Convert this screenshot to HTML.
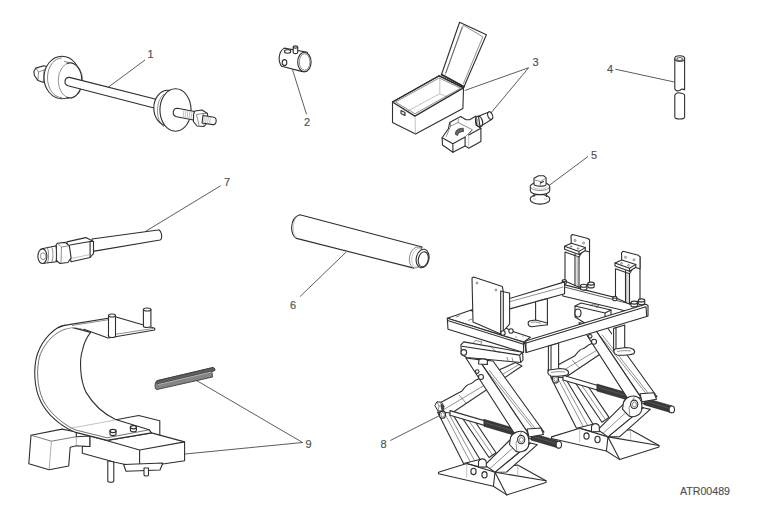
<!DOCTYPE html>
<html><head><meta charset="utf-8">
<style>
html,body{margin:0;padding:0;background:#fff;}
body{width:765px;height:531px;overflow:hidden;}
svg{display:block;}
.k{fill:none;stroke:#2e2e2e;stroke-width:1.1;stroke-linejoin:round;stroke-linecap:round;}
.w{fill:#fff;stroke:#2e2e2e;stroke-width:1.1;stroke-linejoin:round;}
.t{fill:none;stroke:#444;stroke-width:0.6;}
.g{fill:none;stroke:#999;stroke-width:0.6;}
.l{fill:none;stroke:#333;stroke-width:0.8;}
text{font-family:"Liberation Sans",sans-serif;font-size:11px;fill:#505050;stroke:#505050;stroke-width:0.15;}
</style></head>
<body>
<svg width="765" height="531" viewBox="0 0 765 531">
<!-- PART1 -->
<g id="p1">
<!-- left nut -->
<path class="w" d="M33.9,71.6 L35.8,68.1 L43.7,65.7 L47.6,66.7 L48,80 L43.2,82.3 L37.8,80.4 L34.4,75.5 Z"/>
<path class="t" d="M35.8,68.1 L38.5,72 L38,80 M38.5,72 L44,70 L47.6,66.7 M44,70 L43.2,82.3"/>
<!-- back flange -->
<ellipse class="w" cx="62" cy="77.5" rx="18" ry="21.2"/>
<path class="t" d="M62,58 A14.5,19.8 0 0 0 62,97.6" style="stroke:#555;stroke-width:0.7"/>
<!-- cylinder body -->
<ellipse cx="70.5" cy="80.4" rx="12.25" ry="17.6" fill="#fff" stroke="#777" stroke-width="0.8"/>
<path class="k" d="M67,63.2 A12.25,17.6 0 1 1 67,97.6"/>
<path class="t" d="M64,61.2 L70,62.8 M64,98.8 L69,98"/>
<!-- rod -->
<path class="w" d="M69.5,77.4 L157,99.5 L155,108.3 L68,85.8 A4.3,4.3 0 0 1 69.5,77.4 Z"/>
<!-- right back disc -->
<ellipse class="w" cx="168" cy="108" rx="14.2" ry="17.8"/>
<!-- right front disc -->
<ellipse class="w" cx="175.5" cy="110" rx="15.55" ry="21.2"/>
<path class="t" d="M164,94 A13,19 0 0 0 164,127"/>
<!-- threaded rod -->
<path class="w" d="M177.5,108.2 L197,112 L196,120.5 L176.6,116.7 A4.3,4.3 0 0 1 177.5,108.2 Z"/>
<path class="g" d="M184,110 l-1,7.5 M186,110.4 l-1,7.5 M188,110.8 l-1,7.5 M190,111.2 l-1,7.5 M192,111.6 l-1,7.5"/>
<!-- nut -->
<path class="w" d="M195,111 L202,110 L207.5,113.5 L208,122 L204,126.5 L197,126 L193.4,121.5 L193.6,114 Z"/>
<path class="t" d="M196.5,114.5 L199,125.5 M196.5,114.5 L203,113.5 L207.5,113.5 M203,113.5 L204,126.5"/>
<path class="w" d="M203,115.5 L214,117.2 A2.6,3.7 0 0 1 213,124.6 L202,123 Z"/>
<path class="g" d="M204.5,116 l-1,6.8 M206.5,116.3 l-1,6.8 M208.5,116.6 l-1,6.8 M210.5,116.9 l-1,6.8"/>
<line class="l" x1="108" y1="87.4" x2="145" y2="60"/>
<text x="147.5" y="58">1</text>
</g>
<!-- PART2 -->
<g id="p2">
<path class="w" d="M284.2,48.1 L307.3,52.2 L304.4,71.8 L301.5,71.4 L281.7,66.3 C278,62 278,52 284.2,48.1 Z"/>
<ellipse class="w" cx="304.4" cy="62" rx="6.7" ry="9.8"/>
<ellipse class="t" cx="304.6" cy="62" rx="5.3" ry="8.2"/>
<path class="w" d="M293.2,47 L293.2,52.5 A2.25,1.1 0 0 0 297.7,52.5 L297.7,47 Z"/>
<ellipse class="w" cx="295.45" cy="47" rx="2.25" ry="1.1"/>
<ellipse class="k" cx="287.6" cy="51.5" rx="3.2" ry="1.7"/>
<ellipse class="k" cx="284.5" cy="62.6" rx="2.3" ry="3"/>
<line class="l" x1="292.5" y1="69.7" x2="306.5" y2="114.3"/>
<text x="304" y="126">2</text>
</g>
<!-- PART3 -->
<g id="p3">
<!-- box -->
<path class="w" d="M392.5,102 L439.2,75.8 L463.5,87.9 L462.9,108.4 L415.5,134 L392.5,122.5 Z"/>
<path class="g" d="M439.8,77.7 L439.8,93.7 L407.8,111 M439.8,93.7 L448.2,97.5 M415,117 L415.5,134"/>
<path class="k" d="M392.5,102 L439.2,75.8 L463.5,87.9 L414.9,116.1 Z" style="stroke-width:1.3"/>
<path class="t" d="M395.5,102 L439.2,78 L460.5,88.2 L414.9,113.8 Z"/>
<path class="k" d="M401,110.5 L405,112.5 L405,115.5 L401,113.5 Z"/>
<!-- lid -->
<path class="w" d="M441.5,74.5 L459.6,22.3 L486.4,34.7 L464,86.8 Z"/>
<path class="t" d="M445,74.5 L463.3,25.2 L482.8,36.8 L463.3,84 M462,27 L446,73"/>
<path class="k" d="M441.5,74.5 L464,86.8" style="stroke-width:1.6"/>
<!-- block -->
<path class="w" d="M442.1,137.8 L442.5,145 L452.9,152.3 L465.1,145.9 L468.7,148.2 L480.9,141.4 L480.9,128.3 L476,125 L476,116 L469.6,119.7 L466,119.7 L460.6,116.6 L449.7,122.5 L448.4,128.8 Z"/>
<path class="k" d="M442.1,137.8 L452.9,143.7 L465.1,136.9 L465.1,145.9 M452.9,143.7 L452.9,152.3 M468.7,135.1 L480.9,128.3"/>
<path class="g" d="M468.7,135.1 L468.7,148.2"/>
<path class="t" d="M446.1,136.9 L450.6,126.1 L458,122.5 L472.3,129.7 L465.1,136.9 M450.6,126.1 L450.5,123 M458,122.5 L458.5,119 M472.3,129.7 L468.7,135.1"/>
<path d="M455.5,134.5 C455,130.5 458,128 463.3,128.3 L463.5,131.5 C460.5,131.5 458.5,132.5 457.5,135.5 Z" fill="#666" stroke="#2e2e2e" stroke-width="0.7"/>
<!-- pin -->
<path class="w" d="M478.5,116.3 L489.5,111.7 L491.5,119.5 L480,126.6 Z"/>
<ellipse class="w" cx="490.2" cy="115.6" rx="2.3" ry="3.9" transform="rotate(-20 490.2 115.6)"/>
<ellipse class="k" cx="479.1" cy="121.5" rx="3.4" ry="5.4" transform="rotate(-15 479.1 121.5)" style="stroke-width:1.3"/>
<path class="t" d="M478,119 C476.5,121 477,124 479.5,125.5"/>
<line class="l" x1="528.6" y1="67.75" x2="464.7" y2="90.5"/>
<line class="l" x1="528.6" y1="67.75" x2="490.7" y2="113.3"/>
<text x="532.5" y="66">3</text>
</g>
<!-- PART4 -->
<g id="p4">
<path class="w" d="M674.8,58.5 L674.8,89 C675.5,90.5 677.5,91.5 679.5,90.5 C681,89.5 683,88.8 684.6,89.8 L684.6,57.5 Z"/>
<ellipse class="w" cx="679.7" cy="58.5" rx="4.9" ry="2.8"/>
<ellipse class="k" cx="679.7" cy="59" rx="2.8" ry="1.5" style="stroke:#666"/>
<path class="t" d="M680.5,90 C681.5,88.5 683.5,88.5 684.4,89.8"/>
<path class="w" d="M674.8,95 C676,93 678,92.5 680,93 C682,93.5 683.5,93.3 684.6,95 L684.6,117 A4.9,2 0 0 1 674.8,117 Z"/>
<line class="l" x1="615.3" y1="69.2" x2="674.3" y2="82"/>
<text x="607" y="73">4</text>
</g>
<!-- PART5 -->
<g id="p5">
<!-- washer -->
<path class="w" d="M530.3,198.8 A9.7,4.3 0 0 1 549.7,198.8 L549.7,199.8 A9.7,4.3 0 0 1 530.3,199.8 Z"/>
<path class="g" d="M533,199 L536,199 M544,199 L547,199"/>
<path class="k" d="M534,194.5 L534,196.5 M546.5,194.5 L546.5,196.5"/>
<!-- flange -->
<path class="w" d="M530.3,186.5 A9.7,4.1 0 0 1 549.7,186.5 L549.7,190.5 A9.7,4.1 0 0 1 530.3,190.5 Z"/>
<path class="t" d="M530.3,186.5 A9.7,4.1 0 0 0 549.7,186.5"/>
<path class="g" d="M533,186.5 A7,2.6 0 0 0 547,186.5"/>
<!-- head -->
<path class="w" d="M534,178.2 L538.6,175.7 L543.6,175.7 L546.1,177.9 L546.1,184.3 A6,2 0 0 1 534,184 Z"/>
<path class="t" d="M535,180 L540.4,181.5 L545.3,178.6 M540.4,181.5 L540.4,185.5"/>
<path class="k" d="M540.5,183 L543.5,181.5"/>
<line class="l" x1="550" y1="184.8" x2="588" y2="156.5"/>
<text x="591" y="158.5">5</text>
</g>
<!-- PART6 -->
<g id="p6">
<path class="w" d="M299.9,214.7 L422.1,247 L413.8,268.1 L296.5,238.4 C290,236 289,218 299.9,214.7 Z"/>
<path class="t" d="M297,216.5 C292,222 292,234 296.5,237" style="stroke:#999"/>
<ellipse cx="416.5" cy="257.5" rx="7" ry="10.7" transform="rotate(12 416.5 257.5)" fill="#fff" stroke="#777" stroke-width="0.8"/>
<ellipse cx="417.5" cy="257.7" rx="5.6" ry="9.4" transform="rotate(12 417.5 257.7)" fill="none" stroke="#aaa" stroke-width="0.6"/>
<ellipse class="w" cx="422.6" cy="258.5" rx="6.3" ry="9.4" transform="rotate(12 422.6 258.5)"/>
<ellipse class="k" cx="423.3" cy="259.3" rx="4.9" ry="7.6" transform="rotate(12 423.3 259.3)"/>
<line class="l" x1="346.2" y1="252" x2="299.9" y2="296.7"/>
<text x="290" y="309">6</text>
</g>
<!-- PART7 -->
<g id="p7">
<!-- rod -->
<path class="w" d="M92,239 L158,230 A2.5,5 -8 0 1 160,240 L93,251.4 Z"/>
<!-- hex body -->
<path class="w" d="M66.8,241.9 L85.8,237.6 L93.5,241.5 L93.5,253.6 L90.1,257.5 L71.1,261.8 Z"/>
<path class="k" d="M70,245 L90.1,241.5 L93.5,241.5 M90.1,241.5 L90.1,257.5"/>
<path class="g" d="M71,258.5 L90.1,254.5"/>
<!-- hex nut -->
<path class="w" d="M57.3,243.2 L65.1,242.4 L69.4,245.8 L71.1,257.9 L68,262.5 L60,263.5 L55.8,260 L55.6,246 Z"/>
<path class="t" d="M57.3,243.2 L61.5,247 L61,263.5 M61.5,247 L69.4,245.8"/>
<!-- ribbed tip -->
<path class="w" d="M42,248.8 L56.4,245.8 L56.5,261.8 L42,263.5 Z"/>
<path class="t" d="M47,248 A1.6,7.4 0 0 1 47,262.8 M51.3,247.1 A1.6,7.4 0 0 1 51.3,262.2 M55,246.2 A1.6,7.6 0 0 1 55,261.9"/>
<ellipse class="w" cx="42.4" cy="256.2" rx="4.5" ry="7.3"/>
<ellipse class="t" cx="43.1" cy="256.2" rx="2.6" ry="3.5"/>
<line class="l" x1="145.3" y1="231.5" x2="220.6" y2="185.8"/>
<text x="224" y="186">7</text>
</g>
<!-- PART8 -->
<g id="p8">
<!-- ===== back-right crossbar ===== -->
<path class="w" d="M562.8,284.4 L647,305.5 L647,316 L562.8,296 Z"/>
<path class="k" d="M562.8,286.6 L640,306.5" style="stroke-width:0.8"/>
<!-- posts -->
<g id="post">
<path class="w" d="M565,252 L579,257 L589.5,240 L589.5,284 L579,287.3 L565,281 Z"/>
<path class="k" d="M579,257 L579,287.3 M575,254 L575,285.5"/>
<path class="g" d="M576,256 L576,285 M577.5,256 L577.5,286"/>
<path class="w" d="M571,236 L572.5,234.5 L588,238.5 L589.5,240 L589.5,252 L571.4,247 Z"/>
<circle class="t" cx="575" cy="240.5" r="1"/><circle class="t" cx="583.5" cy="243" r="1"/>
<path class="w" d="M564.5,246.3 L571.4,243.2 L585.3,247.6 L585.3,250.5 L579,254.5 L564.5,249.3 Z"/>
<path class="k" d="M564.5,246.3 L579,251.4 L585.3,247.6 M579,251.4 L579,254.5"/>
<circle class="t" cx="571" cy="246.5" r="0.8"/><circle class="t" cx="578" cy="248.5" r="0.8"/>
<path class="w" d="M580.5,285.8 L580.5,288.6 A3.2,1.5 0 0 0 586.9,288.6 L586.9,285.8 Z"/><ellipse class="w" cx="583.7" cy="285.8" rx="3.2" ry="1.5"/>
<path class="w" d="M587.8,283.6 L587.8,286.4 A3.2,1.5 0 0 0 594.2,286.4 L594.2,283.6 Z"/><ellipse class="w" cx="591" cy="283.6" rx="3.2" ry="1.5"/>
<path class="w" d="M562.3,280.5 L562.3,283 A2,1 0 0 0 566.3,283 L566.3,280.5 Z"/><ellipse class="w" cx="564.3" cy="280.5" rx="2" ry="1"/>
</g>
<use href="#post" transform="translate(50.5 16.8)"/>
<!-- ===== back-left bar ===== -->
<path class="w" d="M470.6,310.3 L564.6,281.9 L564.6,293.7 L509.9,308.9 Z"/>
<path class="t" d="M509.9,301.6 L563.2,287"/>
<!-- back-left leg + tab -->
<path class="w" d="M535.6,301.8 L547.4,298.6 L547.4,324.7 L535.6,321 Z"/>
<path class="w" d="M530.3,320.7 L535.6,320 L547.4,323 L547.4,324.7 L531.6,326.7 C527.5,326.5 527,321.5 530.3,320.7 Z"/>
<path class="t" d="M531,322.5 C533,321.5 538,322 541,323.5"/>
<!-- ===== right jack ===== -->
<defs>
<g id="jack">
<!-- base -->
<path class="w" d="M438.5,472.2 L466.7,463.5 L480,467 L517.7,465.1 L546,480.8 L546,482.4 L506.7,494.9 L493.4,486.3 L438.5,473.8 Z"/>
<path class="k" d="M466.7,463.5 L495,472.2 L546,480.8 M495,472.2 L493.4,486.3 M495,472.2 L506.7,494.9"/>
<path class="g" d="M466.7,463.5 L466.7,477.6 M517.7,465.1 L517.7,476"/>
<ellipse class="k" cx="473.5" cy="471.4" rx="2.6" ry="3.2"/>
<ellipse class="k" cx="484.5" cy="474.8" rx="2.6" ry="3.2"/>
<!-- arm B back upper -->
<path class="w" d="M515.6,362.6 L522,366 L448.6,415.3 L436.5,404.8 L462,391 C465,387 467,384 470,384 C473,383 474,381 476,380 Z"/>
<path class="t" d="M519,364.5 L443,410"/>
<path class="t" d="M459,395 L466,403"/>
<!-- lower arm C (back) -->
<path class="w" d="M462,417.5 L475,421.5 L496,452.7 L489,457.5 Z"/>
<path class="t" d="M468,419.5 L492.5,455"/>
<path class="w" d="M437.5,412 L452,413 L480,459.5 L463.5,463.5 Z"/>
<path class="t" d="M445,414 L470,461.5 M449,414 L474.5,460.5"/>
<!-- rod -->
<path class="w" d="M450,410.6 L559,442.5 L559,447.2 L450,415.3 Z"/>
<path d="M483.9,419.3 L515,428.4 L515,435.4 L483.9,426.3 Z" fill="#3a3a3a" stroke="#222" stroke-width="0.6"/>
<path d="M531,433 L559,441.2 L559,448.2 L531,440 Z" fill="#3a3a3a" stroke="#222" stroke-width="0.6"/>
<path d="M485,422.5 L514,431 M532,436.2 L558,444" stroke="#666" stroke-width="0.6" fill="none"/>
<ellipse class="w" cx="558.8" cy="444.7" rx="2.7" ry="3.4"/>
<!-- arm A front upper -->
<path class="w" d="M478.7,359.6 L493,361 L544,432 L528.2,433.2 Z"/>
<path class="t" d="M487,371 L536,432.5 M489,370 L538,432"/>
<path class="w" d="M465.9,358 L478.7,359.6 L528.2,433.2 L514.3,433.2 Z"/>
<circle class="w" cx="477.2" cy="371.6" r="1.8"/>
<circle class="w" cx="481" cy="377" r="2.5"/>
<!-- lower arm D front -->
<path class="w" d="M530.3,443 L537.3,444.7 L506.7,472 L495,472.2 Z"/>
<path class="w" d="M509.9,440 L530.3,443 L495,472.2 L484.8,465.1 Z"/>
<path class="t" d="M520,441.5 L490,468.5"/>
<path class="w" d="M478.5,462 A4,4 0 0 1 486.3,462 L486.3,467 L478.5,467 Z"/>
<path class="w" d="M527,429 L541,428 L543.5,434.5 L529,437 Z"/>
<path class="w" d="M510.5,437.5 C512.5,432.5 519.5,430 524,432 C528.5,434 529.5,440 528.5,446 C527,451 520,453.5 515.5,451 L509.5,444.5 Z"/>
<path class="t" d="M517,452.4 L516,443 L522,431"/>
<ellipse class="w" cx="521.2" cy="439.6" rx="3.6" ry="4.2"/>
<ellipse class="t" cx="521.4" cy="439.8" rx="2" ry="2.5"/>
<!-- left pivot -->
<path d="M434.8,405.5 L437,401.8 L441.5,402.3 L444,406.5 L443,411 L438,411 Z" fill="#fff" stroke="#2e2e2e" stroke-width="1"/>
<path d="M440.5,402.5 L444,406.5 L443,411 L441,409 Z" fill="#444"/>
<path class="t" d="M437,401.8 L439,406 L438,411 M439,406 L444,406.5"/>
<ellipse class="w" cx="442.5" cy="414.7" rx="3" ry="3.6"/>
<ellipse class="t" cx="442.7" cy="414.8" rx="1.7" ry="2.2"/>
</g>
</defs>
<g id="rjack">
<clipPath id="rjc"><path d="M0,0 H612 V338 H765 V531 H0 Z"/></clipPath>
<g clip-path="url(#rjc)"><use href="#jack" transform="translate(113 -35.3)"/></g>
<!-- saddle (visible through frame) -->
<path class="w" d="M575,306 L581,303 L611,310 L611,320 L588,325 L575,317 Z"/>
<path class="k" d="M575,306 L605,313 L611,310 M605,313 L605,322"/>
<path class="t" d="M590,306 L593,304 L599,305.5 L596,308"/>
<ellipse class="w" cx="578" cy="313" rx="3" ry="4"/>
</g>
<g id="ljack">
<use href="#jack"/>
<!-- saddle -->
<path class="w" d="M460.9,344.8 L463.8,341.9 L522.6,352.2 L523,360 L520.7,362.5 L466.8,357.5 L461.4,354.6 Z"/>
<path class="k" d="M461.9,346.3 L519.7,355.1 L522.6,352.2 M519.7,355.1 L520.7,362.5"/>
<path class="t" d="M473,343.5 L475,340.5 L482,341.8 L480,345 M491,345.5 C493,351 498,352.5 502,352.5 M507,357 L508,361 M512,357.5 L513,361.5"/>
<circle class="w" cx="463.8" cy="352.4" r="2.8"/>
<path class="w" d="M478.5,364 L479,360 C480,358.3 486,358.6 487.4,360.5 L487.4,364.4 Z"/>
</g>
<!-- legs from front-right bar -->
<path class="w" d="M548.4,346 L558.6,343 L558.6,371 L548.4,371 Z"/>
<path class="k" d="M551,345.5 L551,370"/>
<path class="w" d="M549,370 L560,368.5 C566.5,368.5 570,371 568,374.5 C566,376 556,376.5 551,376 C547.5,375 547,371.5 549,370 Z"/>
<path class="t" d="M551,372.5 C555,371.5 561,371.5 565,372"/>
<path class="w" d="M613.6,328.4 L624.7,325 L624.7,351 L613.6,351 Z"/>
<path class="k" d="M616,328 L616,350"/>
<path class="w" d="M615,349 L626,347.5 C632.5,347.5 636,350 634,353.5 C632,355 622,355.5 617,355 C613.5,354 613,350.5 615,349 Z"/>
<path class="t" d="M617,351.5 C621,350.5 627,350.5 631,351"/>
<!-- ===== front-right bar ===== -->
<path class="w" d="M524.5,341.2 L645.8,304.2 L648,305.5 L648,316 L646.7,316.5 L526.4,352.5 Z"/>
<path class="k" d="M524.5,343.5 L646,306.8 M646,306.8 L646.7,316.5"/>
<!-- ===== front-left bar ===== -->
<path class="w" d="M447.3,318.3 L470.6,310.3 L474,312 L513,331.6 L530.4,337.2 L523.6,342.1 Z"/>
<path class="t" d="M456,317 L460,315.6 M468,320.5 L472,319"/>
<circle class="g" cx="516" cy="337" r="0.6"/><circle class="g" cx="523" cy="336" r="0.6"/>
<path class="w" d="M447.3,318.3 L523.6,342.1 L523.6,352.5 L448,329.3 Z"/>
<path class="k" d="M447.5,320.5 L523.6,344.3 M525.9,341.4 L525.9,352.6"/>
<!-- plate -->
<path class="w" d="M472,278 L473.5,277 L502.4,286.5 L503.3,291.8 L509.6,293 L509.6,324 L500.7,334 L473,322 Z"/>
<path class="k" d="M503.3,291.8 L500.7,291 L500.7,334 M503.3,291.8 L503.3,331"/>
<circle class="t" cx="477" cy="283" r="1"/><circle class="t" cx="496" cy="290" r="1"/>
<circle class="w" cx="503" cy="333" r="2.2"/><circle class="w" cx="511" cy="331" r="2.2"/>
<line class="l" x1="390.3" y1="440.5" x2="439.3" y2="415.7"/>
<text x="380.5" y="448">8</text>
</g>
<!-- PART9 -->
<g id="p9">
<!-- lower back upper block -->
<path class="w" d="M114.6,420 L138.7,415.5 L159.8,420.8 L159.8,435.1 L140,440 L114.6,436 Z"/>
<!-- main right block -->
<path class="w" d="M82.3,446.5 L89.8,446.5 L89.8,436 L107,440.4 L151.5,432.9 L184.6,441.9 L184.6,460.7 L139.4,467.5 L115,462.3 L82.3,453.2 Z"/>
<path class="k" d="M107.2,440.7 L139.6,450 L184.6,441.9 M139.6,450 L139.6,467.5"/>
<!-- bottom feature + pins -->
<path class="w" d="M123.6,464.5 L162.8,463 L160,470 L126,471.3 Z"/>
<path class="w" d="M107.8,460.7 L107.8,481 A3,1.2 0 0 0 113.8,481 L113.8,462 Z"/>
<path class="w" d="M144,468 L144,475 A2.2,1 0 0 0 148.5,475 L148.5,468 Z"/>
<!-- left block -->
<path class="w" d="M31,435.2 L62,429.1 L76.3,432 L76.3,436.7 L89.8,436 L89.8,446.5 L76.3,445.7 L70.2,447.2 L68.7,466 L49.1,469.8 L28.8,463.8 Z"/>
<path class="k" d="M31,435.2 L51.4,441.2 L76.3,436.7" style="stroke:#555;stroke-width:0.8"/>
<path class="g" d="M51.4,441.2 L49.1,469.8 M76.3,436.7 L76.3,445.7" style="stroke:#777"/>
<!-- band -->
<path class="w" d="M64.6,325.4 C55,327 43,338 37.4,354 C33,368 34,388 40.8,401.4 C47,414 60,426 74.7,432.1 L107,440.4 L151.5,432.9 L149.2,429.8 L115.5,419.5 C104,414 93,404 86.1,392.4 C80,380 79,360 82.7,349.4 C84,343 87,337 90.6,332.4 Z"/>
<path class="t" d="M84,329.3 C78,327.5 73,327 68,328.3 C57,331 46,340 40,355 C36,369 37,387 43,400 C49,412 61,423 75,429.8 L107,437.8 L149.2,429.8" style="stroke:#333;stroke-width:0.7"/>
<path class="g" d="M70.2,428.4 L115,420"/>
<path class="w" d="M62,326.3 C65,325.2 67,324.8 69,324.6 L116,317 L154.7,328.3 L154.7,330 L108,338 L84,329.3 C78,327.5 73,327 66,328.5 Z" style="stroke:none"/>
<path class="k" d="M58,327.5 C62,325.8 65.5,325 69,324.6 L116,317 L154.7,328.3 L154.7,330 L108,338 L84,329.3"/>
<path class="t" d="M72,325.5 L113,319 M107.5,335.5 L153,328.5"/>
<!-- pins on top plate -->
<path class="w" d="M108.5,315.5 L108.5,336 A3.5,1.5 0 0 0 115.5,336 L115.5,315.5 Z"/>
<ellipse class="w" cx="112" cy="315.5" rx="3.5" ry="1.5"/>
<path class="w" d="M143.4,309.5 L143.4,326 A3.75,1.5 0 0 0 150.9,326 L150.9,309.5 Z"/>
<ellipse class="w" cx="147.15" cy="309.5" rx="3.75" ry="1.5"/>
<!-- bolts -->
<path d="M110,431 L110,434 A3,1.6 0 0 0 116,434 L116,431 Z" fill="#fff" stroke="none"/>
<path class="k" d="M110,431 L110,434 A3,1.6 0 0 0 116,434 L116,431"/>
<ellipse cx="113" cy="431" rx="3" ry="1.6" fill="#fff" stroke="#2e2e2e" stroke-width="1.3"/>
<path d="M130.4,427.2 L130.4,430.2 A3,1.6 0 0 0 136.4,430.2 L136.4,427.2 Z" fill="#fff" stroke="none"/>
<path class="k" d="M130.4,427.2 L130.4,430.2 A3,1.6 0 0 0 136.4,430.2 L136.4,427.2"/>
<ellipse cx="133.4" cy="427.2" rx="3" ry="1.6" fill="#fff" stroke="#2e2e2e" stroke-width="1.3"/>
<!-- gray rod -->
<path d="M157,380.7 L213,367.5 L215,369 L214.5,370.6 L211.8,371.5 L212.6,377 L156.6,389.6 C154.5,389 154.5,382 157,380.7 Z" fill="#858585" stroke="#3a3a3a" stroke-width="0.9" stroke-linejoin="round"/>
<path d="M157,380.7 L213,367.5 L215,369 L214.5,370.6 L157.5,384 C156,383.5 156,381.5 157,380.7 Z" fill="#5e5e5e" stroke="#3a3a3a" stroke-width="0.7"/>
<path d="M158,384.6 L211.5,372" stroke="#b5b5b5" stroke-width="0.9" fill="none"/>
<line class="l" x1="196" y1="380.2" x2="302.6" y2="442.5"/>
<line class="l" x1="185" y1="454" x2="302.6" y2="442.5"/>
<text x="305.5" y="448">9</text>
</g>
<text x="680" y="495" textLength="50" lengthAdjust="spacingAndGlyphs" style="font-size:11.5px">ATR00489</text>
</svg>
</body></html>
